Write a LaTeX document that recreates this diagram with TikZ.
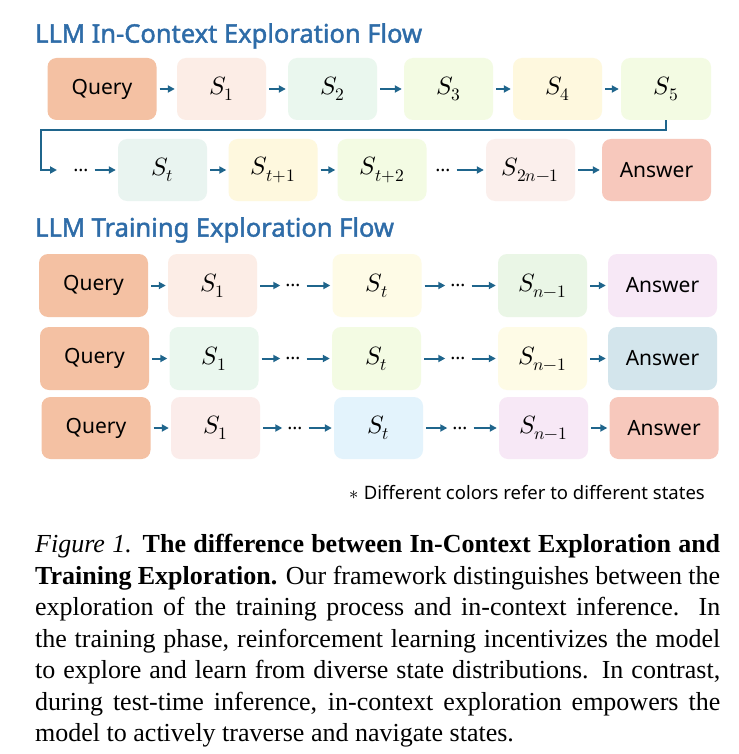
\documentclass[tikz,border=0pt]{standalone}
\usepackage{fontspec}
\usepackage{unicode-math}
\setmainfont{Liberation Serif}
\newfontfamily\lblfont{Noto Sans}
\newfontfamily\ttlfont[FakeBold=1.6]{Noto Sans}
\usetikzlibrary{arrows.meta}
\definecolor{titlec}{RGB}{46,108,168}
\definecolor{arrc}{RGB}{31,101,140}
\definecolor{cquery}{HTML}{F4C1A3}
\definecolor{cpink}{HTML}{FCEDE6}
\definecolor{cmint}{HTML}{EAF7EE}
\definecolor{clime}{HTML}{F3FBE3}
\definecolor{cyel}{HTML}{FEF8DE}
\definecolor{cteal}{HTML}{E9F4F0}
\definecolor{crose}{HTML}{FBEFEC}
\definecolor{csalmon}{HTML}{F7C8BC}
\definecolor{clilac}{HTML}{F7E8F6}
\definecolor{cgreen}{HTML}{EAF6E6}
\definecolor{cyel2}{HTML}{FEFBE6}
\definecolor{cblue}{HTML}{D3E5EC}
\definecolor{csky}{HTML}{E3F3FC}
\definecolor{crose2}{HTML}{FBECEA}
\begin{document}
\begin{tikzpicture}[x=1pt,y=-1pt,
  bx/.style={rounded corners=9pt, inner sep=0pt, minimum width=89pt, minimum height=62pt, font=\fontsize{25}{25}\selectfont},
  tx/.style={bx, minimum width=109pt, font=\lblfont\fontsize{21}{21}\selectfont},
  dt/.style={inner sep=3pt, font=\lblfont\bfseries\fontsize{19}{19}\selectfont},
  ttl/.style={anchor=west, inner sep=0pt, text=titlec, font=\ttlfont\fontsize{25.5}{25.5}\selectfont},
  arr/.style={-{Triangle[length=7pt,width=7pt]}, line width=2pt, draw=arrc, shorten <=3pt, shorten >=2pt},
  conn/.style={-{Triangle[length=7pt,width=7pt]}, line width=1.8pt, draw=arrc}]
\useasboundingbox[fill=white] (0,0) rectangle (738,754);

% ---- Title 1
\node[ttl] (t1) at (35,36) {LLM In-Context Exploration Flow};

% ---- Row 1
\node[tx, fill=cquery] (q0) at (102,89) {Query};
\node[bx, fill=cpink] (a1) at (221.5,89) {$S_1$};
\node[bx, fill=cmint] (a2) at (332.5,89) {$S_2$};
\node[bx, fill=clime] (a3) at (448.5,89) {$S_3$};
\node[bx, fill=cyel] (a4) at (557.5,89) {$S_4$};
\node[bx, fill=clime, minimum width=90pt] (a5) at (666,89) {$S_5$};
\draw[arr] (q0) -- (a1);
\draw[arr] (a1) -- (a2);
\draw[arr] (a2) -- (a3);
\draw[arr] (a3) -- (a4);
\draw[arr] (a4) -- (a5);

% ---- Row 2
\coordinate (c1) at (41,130);
\coordinate (c2) at (57,170);
\draw[conn] (a5.south) |- (c1) |- (c2);
\node[dt] (d1) at (81,170) {…};
\node[bx, fill=cteal] (b1) at (162.5,170) {$S_t$};
\node[bx, fill=cyel] (b2) at (273,170) {$S_{t+1}$};
\node[bx, fill=clime] (b3) at (382,170) {$S_{t+2}$};
\node[dt] (d2) at (443,170) {…};
\node[bx, fill=crose] (b4) at (530.5,170) {$S_{2n-1}$};
\node[tx, fill=csalmon] (b5) at (656.5,170) {Answer};
\draw[arr] (d1) -- (b1);
\draw[arr] (b1) -- (b2);
\draw[arr] (b2) -- (b3);
\draw[arr] (d2) -- (b4);
\draw[arr] (b4) -- (b5);

% ---- Title 2
\node[ttl] (t2) at (35,230) {LLM Training Exploration Flow};

% ---- Training rows A and B
\begin{scope}[bx/.append style={minimum height=63pt}, tx/.append style={minimum height=63pt}]
\node[tx, fill=cquery] (qa) at (93.5,285.5) {Query};
\node[bx, fill=cpink] (sa1) at (212.5,285.5) {$S_1$};
\node[dt] (da1) at (293,285.5) {…};
\node[bx, fill=cyel2] (sa2) at (377,285.5) {$S_t$};
\node[dt] (da2) at (458,285.5) {…};
\node[bx, fill=cgreen] (sa3) at (542.5,285.5) {$S_{n-1}$};
\node[tx, fill=clilac] (aa) at (662.5,285.5) {Answer};

\node[tx, fill=cquery] (qb) at (94.5,358.5) {Query};
\node[bx, fill=cmint] (sb1) at (214,358.5) {$S_1$};
\node[dt] (db1) at (293,358.5) {…};
\node[bx, fill=clime] (sb2) at (376.5,358.5) {$S_t$};
\node[dt] (db2) at (458,358.5) {…};
\node[bx, fill=cyel2] (sb3) at (542.5,358.5) {$S_{n-1}$};
\node[tx, fill=cblue] (ab) at (662.5,358.5) {Answer};
\end{scope}

% ---- Training row C
\node[tx, fill=cquery] (qc) at (96,428) {Query};
\node[bx, fill=crose2] (sc1) at (215.5,428) {$S_1$};
\node[dt] (dc1) at (295,428) {…};
\node[bx, fill=csky] (sc2) at (378.5,428) {$S_t$};
\node[dt] (dc2) at (460,428) {…};
\node[bx, fill=clilac] (sc3) at (543.5,428) {$S_{n-1}$};
\node[tx, fill=csalmon] (ac) at (664,428) {Answer};

\foreach \r in {a,b,c}{
  \draw[arr] (q\r) -- (s\r1);
  \draw[arr] (s\r1) -- (d\r1);
  \draw[arr] (d\r1) -- (s\r2);
  \draw[arr] (s\r2) -- (d\r2);
  \draw[arr] (d\r2) -- (s\r3);
  \draw[arr] (s\r3) -- (a\r);
}

% ---- Footnote
\node[anchor=east, inner sep=0pt, font=\lblfont\fontsize{18.5}{18.5}\selectfont] (fn) at (705,493) {$\ast$ Different colors refer to different states};

% ---- Caption
\node[anchor=north west, inner sep=0pt, text width=685pt, align=justify,
      font=\fontsize{26}{31.5}\selectfont] (cap) at (35,534) {%
\textit{Figure 1.} \textbf{The difference between In-Context Exploration and\linebreak Training Exploration.} Our framework distinguishes between the\linebreak exploration of the training process and in-context inference.~~In\linebreak the training phase, reinforcement learning incentivizes the model\linebreak to explore and learn from diverse state distributions. In contrast,\linebreak during test-time inference, in-context exploration empowers the\linebreak model to actively traverse and navigate states.};
\end{tikzpicture}
\end{document}
